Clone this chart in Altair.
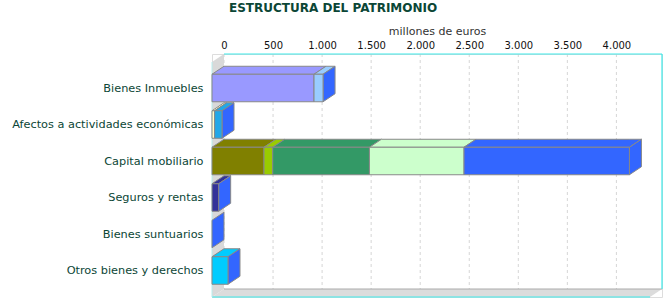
import json
import altair as alt
import pandas as pd

# ---------------- data (millones de euros) ----------------
categories = [
    "Bienes Inmuebles",
    "Afectos a actividades económicas",
    "Capital mobiliario",
    "Seguros y rentas",
    "Bienes suntuarios",
    "Otros bienes y derechos",
]
bienes_inmuebles = [1040, 92, 0]
afectos = [27, 75, 0]
capital_mobiliario = [530, 89, 986, 964, 1686]
seguros_rentas = [68, 0]
bienes_suntuarios = [0]
otros_bienes = [163, 0]

bienes_inmuebles_colors = ["#9999FF", "#99CCFF", "#3366FF"]
afectos_colors = ["#FFFFCC", "#22A8E8", "#3366FF"]
capital_mobiliario_colors = ["#808000", "#99CC00", "#339966", "#CCFFCC", "#3366FF"]
seguros_rentas_colors = ["#333399", "#3366FF"]
bienes_suntuarios_colors = ["#3366FF"]
otros_bienes_colors = ["#00CCFF", "#3366FF"]

tick_values = [0, 500, 1000, 1500, 2000, 2500, 3000, 3500, 4000]

rows_values = [bienes_inmuebles, afectos, capital_mobiliario,
               seguros_rentas, bienes_suntuarios, otros_bienes]
rows_colors = [bienes_inmuebles_colors, afectos_colors, capital_mobiliario_colors,
               seguros_rentas_colors, bienes_suntuarios_colors, otros_bienes_colors]

# ---------------- geometry of the pseudo-3D view ----------------
W, H = 450, 243
PX_PER_UNIT = 0.0981
DX = 12 / PX_PER_UNIT           # depth in x (data units)
XMAX = W / PX_PER_UNIT - DX
PITCH = 36.5
FIRST = 34.0
Y0 = -FIRST / PITCH
Y1 = (H - FIRST) / PITCH
DY = 8 / PITCH                  # depth in y (row units)
HH = 13.75 / PITCH              # half bar height (row units)
BACK_TOP = Y0
FRONT_BOTTOM = Y1
BACK_BOTTOM = Y1 - DY
SIDE = "#3366FF"
EDGE = "#888888"

# ---------------- encodings ----------------
label_expr_y = json.dumps(categories, ensure_ascii=False) + "[datum.value]"
X_AXIS = alt.Axis(orient="top", values=tick_values, grid=False, ticks=False, domain=False,
                  labelExpr="replace(format(datum.value, ','), ',', '.')",
                  labelFont="DejaVu Sans", labelFontSize=10, labelColor="#111111",
                  labelPadding=4, title="millones de euros", titleFont="DejaVu Sans",
                  titleFontSize=11, titleFontWeight="normal", titleColor="#333333",
                  titlePadding=4)
Y_AXIS = alt.Axis(values=list(range(len(categories))), labelExpr=label_expr_y, grid=False,
                  ticks=False, domain=False, labelFont="DejaVu Sans", labelFontSize=11.3,
                  labelColor="#0B4636", labelPadding=9, labelLimit=0, title=None)


def X(field="x"):
    return alt.X(f"{field}:Q", scale=alt.Scale(domain=[-DX, XMAX], nice=False, zero=False),
                 axis=X_AXIS)


def Y(field="y"):
    return alt.Y(f"{field}:Q", scale=alt.Scale(domain=[Y0, Y1], reverse=True, nice=False,
                                               zero=False), axis=Y_AXIS, stack=None)


def face(points, color, stroke=EDGE):
    """A filled polygon whose outline is given as (x, y_upper, y_lower) columns."""
    df = pd.DataFrame(points, columns=["x", "y", "y2"])
    kw = dict(orient="vertical", color=color, opacity=1, interpolate="linear")
    if stroke:
        kw.update(stroke=stroke, strokeWidth=1)
    return alt.Chart(df).mark_area(**kw).encode(x=X(), y=Y(), y2="y2:Q")


layers = []

# left wall and floor
layers.append(face([(-DX, Y0 + DY, FRONT_BOTTOM), (0, BACK_TOP, BACK_BOTTOM)], "#D9D9D9", None))
layers.append(face([(-DX, FRONT_BOTTOM, FRONT_BOTTOM), (0, BACK_BOTTOM, FRONT_BOTTOM),
                    (XMAX - DX, BACK_BOTTOM, FRONT_BOTTOM), (XMAX, BACK_BOTTOM, BACK_BOTTOM)],
                   "#DCDCDC", None))

df_grid = pd.DataFrame(dict(x=tick_values, y=BACK_TOP, y2=BACK_BOTTOM))
layers.append(alt.Chart(df_grid).mark_rule(color="#D6D6D6", strokeDash=[3, 3], strokeWidth=1)
              .encode(x=X(), y=Y(), y2="y2:Q"))
df_floor_edge = pd.DataFrame(dict(x=[0], x2=[XMAX], y=[BACK_BOTTOM], y2=[BACK_BOTTOM]))
layers.append(alt.Chart(df_floor_edge).mark_rule(color="#AAAAAA", strokeWidth=1)
              .encode(x=X(), x2="x2:Q", y=Y(), y2="y2:Q"))
df_frame = pd.DataFrame(dict(
    x=[0, XMAX, -DX], x2=[XMAX, XMAX, XMAX - DX],
    y=[BACK_TOP, BACK_TOP, FRONT_BOTTOM], y2=[BACK_TOP, BACK_BOTTOM, FRONT_BOTTOM]))
layers.append(alt.Chart(df_frame).mark_rule(color="#3FEAEA", strokeWidth=1.2)
              .encode(x=X(), x2="x2:Q", y=Y(), y2="y2:Q"))
df_left_edge = pd.DataFrame(dict(x=[-DX], x2=[-DX], y=[Y0 + DY], y2=[FRONT_BOTTOM]))
layers.append(alt.Chart(df_left_edge).mark_rule(color="#B8EEEE", strokeWidth=1)
              .encode(x=X(), x2="x2:Q", y=Y(), y2="y2:Q"))

# bars: front faces, top faces and the end (side) face
fronts = []
for i, (vals, cols) in enumerate(zip(rows_values, rows_colors)):
    yT, yB = i - HH, i + HH
    start = 0.0
    for v, c in zip(vals, cols):
        x0, x1 = start - DX, start + v - DX
        start += v
        if v <= 0:
            continue
        fronts.append(dict(x=x0, x2=x1, y=yT, y2=yB, c=c))
        w = x1 - x0
        if w >= DX:
            pts = [(x0, yT, yT), (x0 + DX, yT - DY, yT), (x1, yT - DY, yT),
                   (x1 + DX, yT - DY, yT - DY)]
        else:
            pts = [(x0, yT, yT), (x1, yT - DY * w / DX, yT),
                   (x0 + DX, yT - DY, yT - DY * (DX - w) / DX),
                   (x1 + DX, yT - DY, yT - DY)]
        layers.append(face(pts, c))
    xe = start - DX
    layers.append(face([(xe, yT, yB), (xe + DX, yT - DY, yB - DY)], SIDE))

df_front = pd.DataFrame(fronts)
layers.append(alt.Chart(df_front).mark_rect(stroke=EDGE, strokeWidth=1).encode(
    x=X(), x2="x2:Q", y=Y(), y2="y2:Q", fill=alt.Fill("c:N", scale=None)))

chart = alt.layer(*layers).properties(
    width=W, height=H,
    title=alt.TitleParams("ESTRUCTURA DEL PATRIMONIO", anchor="start", frame="group", dx=17,
                          offset=10, font="DejaVu Sans", fontSize=12, fontWeight="bold",
                          color="#0B4636"),
    autosize=alt.AutoSizeParams(type="none"),
    padding={"left": 212, "top": 54, "right": 8, "bottom": 3},
).configure_view(stroke=None).configure(background="white")

chart.save("out.html", embed_options={"renderer": "svg", "actions": False})
